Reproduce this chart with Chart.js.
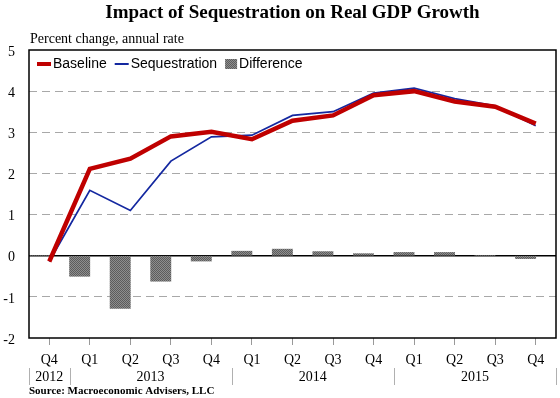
<!DOCTYPE html>
<html>
<head>
<meta charset="utf-8">
<title>Impact of Sequestration on Real GDP Growth</title>
<script src="https://cdn.jsdelivr.net/npm/chart.js@4.4.1/dist/chart.umd.min.js"></script>
<style>
  html, body { margin: 0; padding: 0; background: #fff; }
  #wrap { width: 560px; height: 398px; }
</style>
</head>
<body>
<div id="wrap"><canvas id="mainChart" width="560" height="398"></canvas></div>
<script>
// Quarters on the x axis and the year each one belongs to
const quarters = ['Q4', 'Q1', 'Q2', 'Q3', 'Q4', 'Q1', 'Q2', 'Q3', 'Q4', 'Q1', 'Q2', 'Q3', 'Q4'];
const quarterYears = ['2012', '2013', '2013', '2013', '2013', '2014', '2014', '2014', '2014', '2015', '2015', '2015', '2015'];

// Percent change, annual rate
const baseline = [-0.14, 2.11, 2.36, 2.90, 3.01, 2.83, 3.28, 3.41, 3.90, 4.00, 3.75, 3.62, 3.21];
const sequestration = [-0.14, 1.59, 1.10, 2.30, 2.89, 2.93, 3.41, 3.50, 3.95, 4.07, 3.82, 3.64, 3.16];
const difference = [0, -0.50, -1.28, -0.62, -0.13, 0.11, 0.16, 0.10, 0.05, 0.08, 0.08, 0, -0.07];

const yTicks = { min: -2, max: 5, step: 1 };

const titleText = 'Impact of Sequestration on Real GDP Growth';
const unitText = 'Percent change, annual rate';
const sourceText = 'Source: Macroeconomic Advisers, LLC';

const SERIF = '"Liberation Serif", "Times New Roman", serif';
const SANS = '"Liberation Sans", Arial, sans-serif';
const RED = '#bf0000';
const BLUE = '#1428a0';

// stippled gray fill like the original bars
function makeStipple() {
    const c = document.createElement('canvas');
    c.width = 2;
    c.height = 2;
    const g = c.getContext('2d');
    g.fillStyle = '#8e8e8e';
    g.fillRect(0, 0, 2, 2);
    g.fillStyle = '#5c5c5c';
    g.fillRect(0, 0, 1, 1);
    g.fillRect(1, 1, 1, 1);
    return g.createPattern(c, 'repeat');
}
const stipple = makeStipple();

// Frame, zero line, titles, in-plot legend and the year row
const extrasPlugin = {
    id: 'extras',
    beforeDatasetsDraw(chart) {
        const { ctx, chartArea, scales } = chart;
        const y0 = scales.y.getPixelForValue(0);
        ctx.save();
        ctx.strokeStyle = '#000';
        ctx.lineWidth = 1.5;
        ctx.beginPath();
        ctx.moveTo(chartArea.left, y0);
        ctx.lineTo(chartArea.right, y0);
        ctx.stroke();
        ctx.restore();
    },
    afterDraw(chart) {
        const { ctx, chartArea, scales } = chart;
        const x = scales.x;
        ctx.save();

        // plot frame
        ctx.strokeStyle = '#000';
        ctx.lineWidth = 1.5;
        ctx.strokeRect(chartArea.left, chartArea.top, chartArea.right - chartArea.left, chartArea.bottom - chartArea.top);

        // title and unit line
        ctx.fillStyle = '#000';
        ctx.textBaseline = 'middle';
        ctx.textAlign = 'center';
        ctx.font = 'bold 19px ' + SERIF;
        ctx.fillText(titleText, (chartArea.left + chartArea.right) / 2, 13);
        ctx.textAlign = 'left';
        ctx.font = '14px ' + SERIF;
        ctx.fillText(unitText, chartArea.left + 1, 39);

        // legend inside the plot
        ctx.font = '14px ' + SANS;
        let lx = chartArea.left + 8;
        const ly = chartArea.top + 14;
        chart.data.datasets.forEach(ds => {
            if (!ds.label) return;
            if (ds.type === 'line') {
                ctx.strokeStyle = ds.borderColor;
                ctx.lineWidth = ds.borderWidth >= 3 ? 4 : 2;
                ctx.beginPath();
                ctx.moveTo(lx, ly);
                ctx.lineTo(lx + 14, ly);
                ctx.stroke();
                lx += 16;
            } else {
                ctx.fillStyle = ds.backgroundColor;
                ctx.fillRect(lx, ly - 5, 12, 10);
                lx += 14;
            }
            ctx.fillStyle = '#000';
            ctx.fillText(ds.label, lx, ly);
            lx += ctx.measureText(ds.label).width + 8;
        });

        // year row with separators
        const half = (x.getPixelForValue(1) - x.getPixelForValue(0)) / 2;
        const groups = [];
        quarterYears.forEach((yr, i) => {
            const last = groups[groups.length - 1];
            if (last && last.year === yr) last.end = i;
            else groups.push({ year: yr, start: i, end: i });
        });
        ctx.font = '14px ' + SERIF;
        ctx.textAlign = 'center';
        ctx.strokeStyle = '#b0b0b0';
        ctx.lineWidth = 1;
        groups.forEach(g => {
            const left = x.getPixelForValue(g.start) - half;
            const right = x.getPixelForValue(g.end) + half;
            ctx.fillStyle = '#000';
            ctx.fillText(g.year, (left + right) / 2, 377);
            [left, right].forEach(px => {
                ctx.beginPath();
                ctx.moveTo(Math.round(px) + 0.5, 368);
                ctx.lineTo(Math.round(px) + 0.5, 385);
                ctx.stroke();
            });
        });

        // source note
        ctx.textAlign = 'left';
        ctx.font = 'bold 11px ' + SERIF;
        ctx.fillStyle = '#000';
        ctx.fillText(sourceText, chartArea.left, 391);

        ctx.restore();
    }
};

const ctx = document.getElementById('mainChart').getContext('2d');

new Chart(ctx, {
    type: 'bar',
    data: {
        labels: quarters,
        datasets: [
            {
                type: 'line',
                label: 'Baseline',
                data: baseline,
                borderColor: RED,
                backgroundColor: RED,
                borderWidth: 4.5,
                pointRadius: 0,
                tension: 0,
                order: 1
            },
            {
                type: 'line',
                label: 'Sequestration',
                data: sequestration,
                borderColor: BLUE,
                backgroundColor: BLUE,
                borderWidth: 1.75,
                pointRadius: 0,
                tension: 0,
                order: 2
            },
            {
                type: 'bar',
                label: 'Difference',
                data: difference,
                backgroundColor: stipple,
                borderWidth: 0,
                categoryPercentage: 1,
                barPercentage: 1,
                order: 3
            },
            {
                // empty companion so the bars sit in the left half of each quarter
                type: 'bar',
                label: '',
                data: quarters.map(() => null),
                categoryPercentage: 1,
                barPercentage: 1,
                order: 4
            }
        ]
    },
    options: {
        responsive: false,
        animation: false,
        layout: { padding: { top: 50, right: 4, left: 0, bottom: 0 } },
        plugins: {
            legend: { display: false },
            tooltip: { enabled: false },
            title: { display: false }
        },
        scales: {
            x: {
                offset: true,
                grid: {
                    display: true,
                    drawOnChartArea: false,
                    offset: false,
                    drawTicks: true,
                    tickLength: 7,
                    tickColor: '#999999',
                    tickWidth: 1
                },
                border: { display: false },
                ticks: {
                    font: { family: SERIF, size: 14 },
                    color: '#000',
                    padding: 7,
                    maxRotation: 0,
                    autoSkip: false
                },
                afterFit(scale) { scale.height = 60; }
            },
            y: {
                min: yTicks.min,
                max: yTicks.max,
                ticks: {
                    stepSize: yTicks.step,
                    font: { family: SERIF, size: 14 },
                    color: '#000',
                    padding: 14,
                    labelOffset: 2
                },
                grid: {
                    color: c => (c.tick.value === 0 || c.tick.value === yTicks.min || c.tick.value === yTicks.max) ? 'rgba(0,0,0,0)' : '#a8a8a8',
                    drawTicks: false,
                    lineWidth: 1
                },
                border: { display: false, dash: [8, 5] },
                afterFit(scale) { scale.width = 29; }
            }
        }
    },
    plugins: [extrasPlugin]
});
</script>
</body>
</html>
